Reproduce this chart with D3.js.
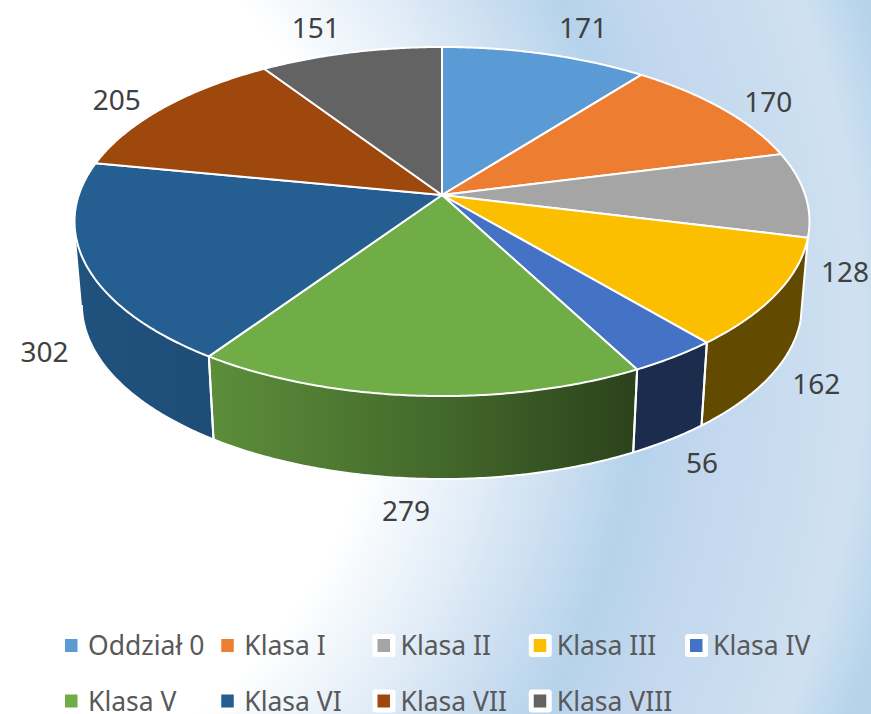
<!DOCTYPE html>
<html>
<head>
<meta charset="utf-8">
<script src="https://cdn.jsdelivr.net/npm/d3@7"></script>
<style>
    html, body { margin: 0; padding: 0; background: #fff; }
    svg { display: block; }
    text { font-family: "Noto Sans", "Open Sans", sans-serif; }
</style>
</head>
<body>
<script>
const categories = ["Oddział 0", "Klasa I", "Klasa II", "Klasa III", "Klasa IV", "Klasa V", "Klasa VI", "Klasa VII", "Klasa VIII"];
const values = [171, 170, 128, 162, 56, 279, 302, 205, 151];
const colors = ["#5b9bd5", "#ed7d31", "#a5a5a5", "#fcbf00", "#4472c4", "#70ad47", "#255e91", "#9e480e", "#636363"];

// label nudge from the outer edge of each slice (excel puts them around the rim)
const labelNudge = [[38, -26], [46, -7], [40, -5], [39, 8], [28, 23], [-12, 32], [-41, 5], [-47, -8], [-35, -25]];

const width = 871,
    height = 714;

// perspective disc: apex of the pie is not the middle of the ellipse
const cx = 442, cy = 195,
    rx = 363.2, ry = 170.5,
    persp = 0.152,
    depth = 83,
    bottomScale = 0.98;

const top3d = a => {
    const u = Math.sin(a), v = -Math.cos(a), w = 1 - persp * v;
    return [cx + rx * u / w, cy + ry * v / w];
};
const bottom3d = a => {
    const p = top3d(a);
    return [cx + (p[0] - cx) * bottomScale, p[1] + depth];
};

// how dark the wall gets going left to right
const shadeStops = [-1, -0.64, 0, 0.52, 1];
const wallShade = d3.scaleLinear()
    .domain(shadeStops)
    .range([0.87, 0.82, 0.6, 0.39, 0.39]);

const svg = d3.select("body").append("svg")
    .attr("width", width)
    .attr("height", height);
const defs = svg.append("defs");

// background
const grad = defs.append("radialGradient")
    .attr("id", "bg")
    .attr("gradientUnits", "userSpaceOnUse")
    .attr("cx", -92).attr("cy", 340).attr("r", 1100);
[[470, "#ffffff"], [560, "#e8f1f9"], [660, "#cddff1"], [735, "#b5d3eb"], [800, "#c2d7ee"], [955, "#cfe1f1"], [1015, "#b5d3eb"]].forEach(s => {
    grad.append("stop").attr("offset", s[0] / 1100).attr("stop-color", s[1]);
});
svg.append("rect").attr("width", width).attr("height", height).attr("fill", "url(#bg)");

const pie = d3.pie().sort(null).value(d => d);
const arcs = pie(values);
const line = d3.line();
const deg = Math.PI / 180;

const steps = d => d3.range(d.startAngle, d.endAngle, deg / 2).concat([d.endAngle]);
const isFront = d => -Math.cos((d.startAngle + d.endAngle) / 2) > persp;
// only the part of the rim past the widest point of the ellipse can be seen
const frontSteps = d => steps(d).filter(a => -Math.cos(a) > persp);

// walls
const walls = svg.append("g");
arcs.filter(isFront).forEach(d => {
    const base = d3.rgb(colors[d.index]);
    const g = defs.append("linearGradient")
        .attr("id", "wall" + d.index)
        .attr("gradientUnits", "userSpaceOnUse")
        .attr("x1", cx - rx).attr("x2", cx + rx)
        .attr("y1", 0).attr("y2", 0);
    shadeStops.forEach(u => {
        const k = wallShade(u);
        g.append("stop")
            .attr("offset", (u + 1) / 2)
            .attr("stop-color", d3.rgb(base.r * k, base.g * k, base.b * k).formatHex());
    });
    const st = frontSteps(d);
    walls.append("path")
        .attr("d", line(st.map(top3d).concat(st.map(bottom3d).reverse())) + "Z")
        .attr("fill", `url(#wall${d.index})`);
});
// rim under the wall
arcs.filter(isFront).forEach(d => {
    walls.append("path")
        .attr("d", line(frontSteps(d).map(bottom3d)))
        .attr("fill", "none")
        .attr("stroke", "#fff")
        .attr("stroke-width", 2);
});
// separators between walls
arcs.filter(isFront).forEach(d => {
    [d.startAngle, d.endAngle].filter(a => -Math.cos(a) > persp).forEach(a => {
        walls.append("path")
            .attr("d", line([top3d(a), bottom3d(a)]))
            .attr("stroke", "#fff")
            .attr("stroke-width", 2);
    });
});

// top of the pie
svg.append("g").selectAll("path")
    .data(arcs)
    .enter().append("path")
    .attr("d", d => line([[cx, cy]].concat(steps(d).map(top3d))) + "Z")
    .attr("fill", d => colors[d.index])
    .attr("stroke", "#fff")
    .attr("stroke-width", 2)
    .attr("stroke-linejoin", "round");

// value labels
svg.append("g").selectAll("text")
    .data(arcs)
    .enter().append("text")
    .attr("x", d => {
        const mid = (d.startAngle + d.endAngle) / 2;
        return top3d(mid)[0] + labelNudge[d.index][0];
    })
    .attr("y", d => {
        const mid = (d.startAngle + d.endAngle) / 2;
        const front = -Math.cos(mid) > -0.01;
        return top3d(mid)[1] + (front ? depth : 0) + labelNudge[d.index][1];
    })
    .attr("text-anchor", "middle")
    .attr("dy", "0.36em")
    .attr("font-size", 28)
    .attr("fill", "#404040")
    .text(d => d.value);

// legend, 5 per row
const legendX = d3.scaleLinear().domain([0, 4]).range([65, 690]);
const legendY = d3.scaleLinear().domain([0, 1]).range([645.5, 701]);
const legend = svg.append("g").selectAll("g")
    .data(categories)
    .enter().append("g")
    .attr("transform", (d, i) => `translate(${legendX(i % 5)},${legendY(Math.floor(i / 5))})`);

legend.append("rect")
    .attr("x", -5).attr("y", -11.5)
    .attr("width", 23).attr("height", 23)
    .attr("rx", 3)
    .attr("fill", "#fff");
legend.append("rect")
    .attr("x", 0).attr("y", -6.5)
    .attr("width", 12.5).attr("height", 13)
    .attr("fill", (d, i) => colors[i]);
legend.append("text")
    .attr("x", 23)
    .attr("dy", "0.36em")
    .attr("font-size", 26.5)
    .attr("fill", "#595959")
    .text(d => d);
</script>
</body>
</html>
